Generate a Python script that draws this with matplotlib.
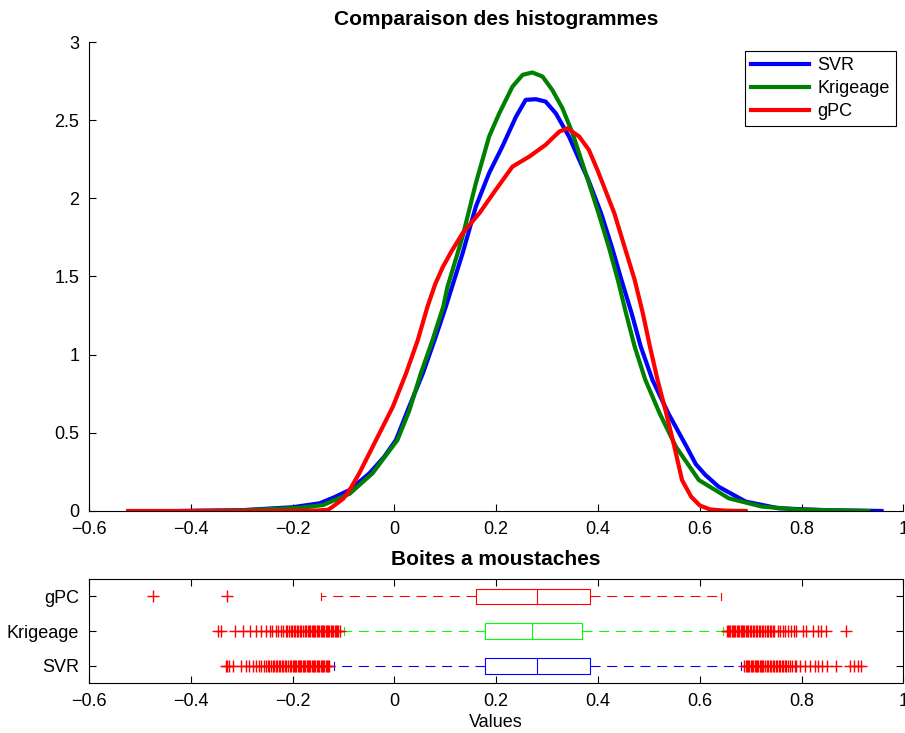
# -*- coding: utf-8 -*-
"""
densites et boites a moustaches des trois metamodeles
"""
import numpy
import matplotlib
matplotlib.use('Agg')
import matplotlib.pyplot
from matplotlib.ticker import FuncFormatter

matplotlib.pyplot.rcParams['font.family'] = ['Liberation Sans', 'DejaVu Sans']

#%% densites (ksdensity)
svr_x = [-0.42, -0.30, -0.20, -0.147, -0.12, -0.088, -0.049, -0.020, 0.003, 0.029, 0.056, 0.079,
         0.101, 0.134, 0.160, 0.186, 0.212, 0.239, 0.258, 0.278, 0.297, 0.317, 0.343, 0.369,
         0.381, 0.406, 0.427, 0.446, 0.466, 0.484, 0.507, 0.538, 0.574, 0.592, 0.611, 0.637,
         0.690, 0.755, 0.85, 0.957]
svr_y = [0.0, 0.005, 0.024, 0.049, 0.085, 0.134, 0.241, 0.347, 0.454, 0.667, 0.881, 1.094,
         1.307, 1.649, 1.947, 2.161, 2.331, 2.523, 2.63, 2.634, 2.619, 2.544, 2.395, 2.203,
         2.118, 1.905, 1.691, 1.478, 1.265, 1.051, 0.838, 0.625, 0.411, 0.30, 0.23, 0.155,
         0.06, 0.017, 0.005, 0.0]

krig_x = [-0.40, -0.30, -0.186, -0.14, -0.121, -0.088, -0.043, 0.006, 0.029, 0.052, 0.075, 0.096,
          0.104, 0.134, 0.160, 0.186, 0.206, 0.232, 0.252, 0.271, 0.291, 0.310, 0.330, 0.350,
          0.380, 0.401, 0.421, 0.439, 0.455, 0.472, 0.493, 0.521, 0.553, 0.598, 0.657, 0.722,
          0.80, 0.931]
krig_y = [0.0, 0.004, 0.02, 0.038, 0.065, 0.11, 0.241, 0.454, 0.64, 0.881, 1.094, 1.307,
          1.43, 1.756, 2.097, 2.395, 2.544, 2.715, 2.79, 2.805, 2.779, 2.694, 2.577, 2.416,
          2.118, 1.905, 1.691, 1.478, 1.265, 1.051, 0.838, 0.625, 0.411, 0.198, 0.081, 0.028,
          0.008, 0.0]

gpc_x = [-0.523, -0.30, -0.20, -0.15, -0.13, -0.121, -0.10, -0.088, -0.069, -0.036, -0.003, 0.023,
         0.046, 0.065, 0.080, 0.095, 0.112, 0.134, 0.167, 0.199, 0.232, 0.265, 0.297, 0.324,
         0.340, 0.363, 0.382, 0.399, 0.432, 0.452, 0.472, 0.488, 0.502, 0.517, 0.534, 0.550,
         0.565, 0.583, 0.60, 0.62, 0.65, 0.69]
gpc_y = [0.0, 0.0, 0.001, 0.003, 0.008, 0.028, 0.08, 0.134, 0.241, 0.454, 0.667, 0.881,
         1.094, 1.307, 1.45, 1.56, 1.66, 1.777, 1.905, 2.054, 2.203, 2.267, 2.342, 2.427,
         2.448, 2.395, 2.31, 2.18, 1.905, 1.691, 1.478, 1.265, 1.051, 0.838, 0.625, 0.411,
         0.198, 0.091, 0.035, 0.01, 0.002, 0.0]

#%% boites a moustaches : quartiles, moustaches, valeurs aberrantes
noms = ['SVR', 'Krigeage', 'gPC']
q1 = [0.1788, 0.1774, 0.1605]
med = [0.2803, 0.2711, 0.2796]
q3 = [0.3837, 0.3688, 0.3837]
whislo = [-0.1179, -0.0982, -0.1440]
whishi = [0.6811, 0.6450, 0.6418]

svr_out = [-0.3307, -0.3280, -0.3242, -0.3177, -0.3012, -0.2914, -0.2850, -0.2783, -0.2718,
           -0.2650, -0.2620, -0.2560, -0.2521, -0.2490, -0.2456, -0.2420, -0.2390,
           -0.2358, -0.2330, -0.2300, -0.2270, -0.2240, -0.2210, -0.2180, -0.2150, -0.2120,
           -0.2090, -0.2060, -0.2030, -0.2000, -0.1975, -0.1950, -0.1925, -0.1900, -0.1875,
           -0.1850, -0.1825, -0.1800, -0.1775, -0.1750, -0.1725, -0.1700, -0.1675, -0.1650,
           -0.1625, -0.1600, -0.1575, -0.1550, -0.1525, -0.1500, -0.1475, -0.1450, -0.1425,
           -0.1400, -0.1375, -0.1350, -0.1325, -0.1300, -0.1277,
           0.6876, 0.6900, 0.6925, 0.6950, 0.6975, 0.7000, 0.7025, 0.7050, 0.7075, 0.7100,
           0.7125, 0.7150, 0.7175, 0.7200, 0.7225, 0.7250, 0.7280, 0.7310, 0.7340, 0.7370,
           0.7400, 0.7430, 0.7460, 0.7490, 0.7520, 0.7550, 0.7580, 0.7610, 0.7640, 0.7670,
           0.7700, 0.7740, 0.7780, 0.7820, 0.7860, 0.7892,
           0.7960, 0.8060, 0.8160, 0.8260, 0.8320, 0.8390, 0.8490, 0.8680, 0.8940, 0.9030,
           0.9100, 0.9160]
krig_out = [-0.3458, -0.3405, -0.3137, -0.2980, -0.2836, -0.2718, -0.2620, -0.2521, -0.2443,
            -0.2400, -0.2325, -0.2280, -0.2227, -0.2180, -0.2128, -0.2100,
            -0.2063, -0.2035, -0.2005, -0.1975, -0.1945, -0.1915, -0.1885, -0.1855, -0.1825,
            -0.1795, -0.1765, -0.1735, -0.1705, -0.1675, -0.1650, -0.1625, -0.1600, -0.1575,
            -0.1550, -0.1525, -0.1500, -0.1475, -0.1450, -0.1425, -0.1400, -0.1375, -0.1350,
            -0.1325, -0.1300, -0.1275, -0.1250, -0.1225, -0.1200, -0.1175, -0.1150, -0.1125,
            -0.1100, -0.1067,
            0.6529, 0.6550, 0.6575, 0.6600, 0.6625, 0.6650, 0.6675, 0.6700, 0.6725, 0.6750,
            0.6775, 0.6800, 0.6825, 0.6850, 0.6875, 0.6900, 0.6925, 0.6950, 0.6980, 0.7010,
            0.7040, 0.7070, 0.7100, 0.7130, 0.7160, 0.7190, 0.7220, 0.7250, 0.7280, 0.7310,
            0.7340, 0.7370, 0.7400, 0.7430, 0.7466,
            0.7531, 0.7580, 0.7629, 0.7680, 0.7728, 0.7793, 0.7840, 0.7892, 0.8022, 0.8088,
            0.8218, 0.8317, 0.8382, 0.8481, 0.8874]
gpc_out = [-0.4735, -0.3281]
aberrants = [svr_out, krig_out, gpc_out]
couleurs_boite = ['#0000ff', '#00ff00', '#ff0000']

#%% figure
fig = matplotlib.pyplot.figure(figsize=(9.05, 7.33), dpi=100)
ax1 = fig.add_axes([0.0983, 0.3029, 0.9, 0.6398])
ax2 = fig.add_axes([0.0983, 0.0678, 0.9, 0.1423])

def fmt_tick(val, pos=None):
    return '{:g}'.format(round(val, 6)).replace('-', '\u2212')

# densites
ax1.plot(svr_x, svr_y, color=(0, 0, 1), lw=3, label='SVR', solid_joinstyle='round')
ax1.plot(krig_x, krig_y, color=(0, 0.5, 0), lw=3, label='Krigeage', solid_joinstyle='round')
ax1.plot(gpc_x, gpc_y, color=(1, 0, 0), lw=3, label='gPC', solid_joinstyle='round')
ax1.set_xlim(-0.6, 1)
ax1.set_ylim(0, 3)
ax1.set_xticks(numpy.arange(-0.6, 1.01, 0.2))
ax1.set_yticks(numpy.arange(0, 3.01, 0.5))
ax1.xaxis.set_major_formatter(FuncFormatter(fmt_tick))
ax1.yaxis.set_major_formatter(FuncFormatter(fmt_tick))
ax1.spines['top'].set_visible(False)
ax1.spines['right'].set_visible(False)
ax1.tick_params(direction='in', length=5, width=0.8, labelsize=13, pad=7)
ax1.set_title('Comparaison des histogrammes', fontsize=15, fontweight='bold', pad=12)
leg = ax1.legend(loc='upper right', bbox_to_anchor=(0.9908, 0.9808), borderaxespad=0,
                 fontsize=13, handlelength=3.2, handletextpad=0.45, labelspacing=0.32,
                 borderpad=0.35, fancybox=False, framealpha=1)
leg.get_frame().set_edgecolor('black')
leg.get_frame().set_linewidth(0.8)

# boites a moustaches
stats = []
for i in range(3):
    stats.append(dict(label=noms[i], q1=q1[i], med=med[i], q3=q3[i],
                      whislo=whislo[i], whishi=whishi[i], fliers=aberrants[i]))
for i in range(3):
    c = couleurs_boite[i]
    ax2.bxp([stats[i]], positions=[i + 1], widths=0.45, capwidths=0.22, vert=False,
            boxprops=dict(color=c, lw=0.8),
            medianprops=dict(color=c, lw=0.8),
            whiskerprops=dict(color=c, lw=0.8, linestyle=(0, (9, 6))),
            capprops=dict(color=c, lw=0.8),
            flierprops=dict(marker='+', markeredgecolor='red', markersize=8,
                            markeredgewidth=1.0, linestyle='none'))
ax2.set_xlim(-0.6, 1)
ax2.set_ylim(0.5, 3.5)
ax2.set_xticks(numpy.arange(-0.6, 1.01, 0.2))
ax2.xaxis.set_major_formatter(FuncFormatter(fmt_tick))
ax2.set_yticks([1, 2, 3])
ax2.set_yticklabels(noms)
ax2.tick_params(direction='in', length=5, width=0.8, labelsize=13, pad=7,
                top=True, right=True)
ax2.set_title('Boites a moustaches', fontsize=15, fontweight='bold', pad=10)
ax2.set_xlabel('Values', fontsize=13, labelpad=3)

matplotlib.pyplot.savefig('out.png', dpi=100)
